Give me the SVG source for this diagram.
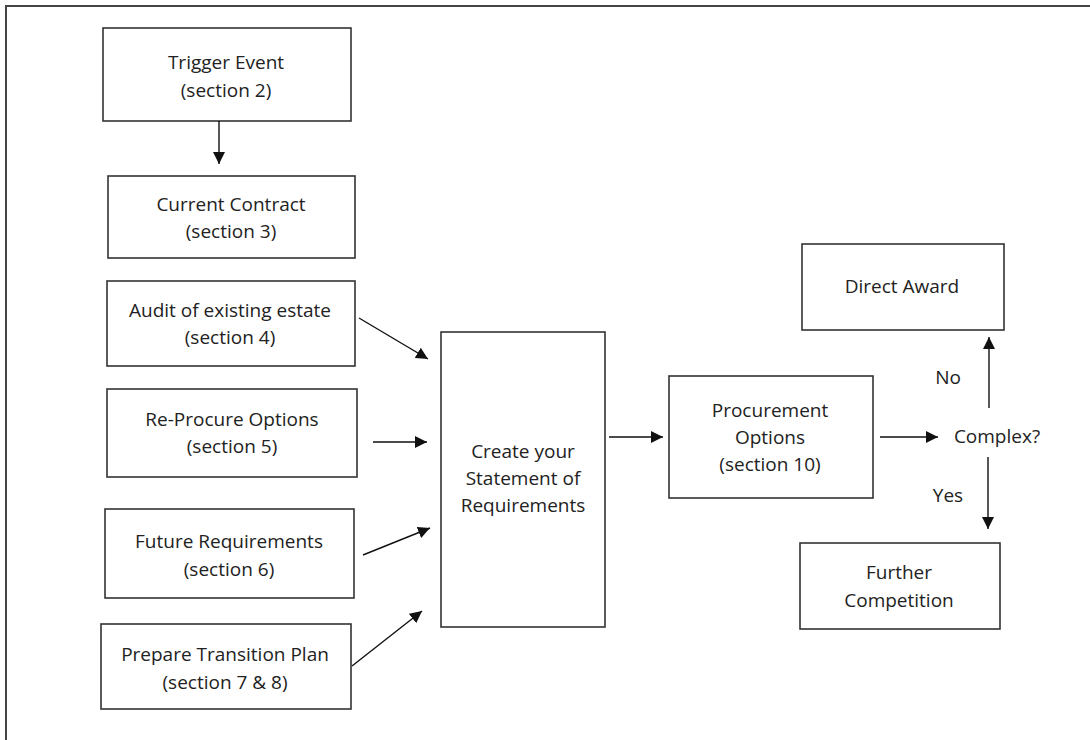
<svg xmlns="http://www.w3.org/2000/svg" width="1090" height="740" viewBox="0 0 1090 740">
<style>
.box{fill:#fff;stroke:#333;stroke-width:1.6}
.t{font-family:"Open Sans","Liberation Sans",sans-serif;font-size:19px;fill:#222;text-anchor:middle}
.c{stroke:#111;stroke-width:1.4;fill:none}
</style>
<defs>
<marker id="ah" viewBox="0 0 10 10" refX="10" refY="5" markerWidth="12" markerHeight="12" markerUnits="userSpaceOnUse" orient="auto">
<path d="M0,0 L10,5 L0,10 z" fill="#111"/>
</marker>
</defs>
<rect width="1090" height="740" fill="#fff"/>
<path d="M6,740 V6 H1090" fill="none" stroke="#444" stroke-width="2"/>
<g id="trigger"><rect class="box" x="103" y="28" width="248" height="93"/><text class="t" x="226" y="69">Trigger Event</text><text class="t" x="226" y="97">(section 2)</text></g>
<g id="current"><rect class="box" x="108" y="176" width="247" height="82"/><text class="t" x="231" y="211">Current Contract</text><text class="t" x="231" y="238">(section 3)</text></g>
<g id="audit"><rect class="box" x="107" y="281" width="248" height="85"/><text class="t" x="230" y="317">Audit of existing estate</text><text class="t" x="230" y="344">(section 4)</text></g>
<g id="reprocure"><rect class="box" x="107" y="389" width="250" height="88"/><text class="t" x="232" y="426">Re-Procure Options</text><text class="t" x="232" y="453">(section 5)</text></g>
<g id="future"><rect class="box" x="105" y="509" width="249" height="89"/><text class="t" x="229" y="548">Future Requirements</text><text class="t" x="229" y="576">(section 6)</text></g>
<g id="prepare"><rect class="box" x="101" y="624" width="250" height="85"/><text class="t" x="225" y="661">Prepare Transition Plan</text><text class="t" x="225" y="689">(section 7 &amp; 8)</text></g>
<g id="create"><rect class="box" x="441" y="332" width="164" height="295"/><text class="t" x="523" y="458">Create your</text><text class="t" x="523" y="485">Statement of</text><text class="t" x="523" y="512">Requirements</text></g>
<g id="procurement"><rect class="box" x="669" y="376" width="204" height="122"/><text class="t" x="770" y="417">Procurement</text><text class="t" x="770" y="444">Options</text><text class="t" x="770" y="471">(section 10)</text></g>
<g id="complex"><text class="t" x="997" y="443">Complex?</text></g>
<g id="direct"><rect class="box" x="802" y="244" width="202" height="86"/><text class="t" x="902" y="293">Direct Award</text></g>
<g id="further"><rect class="box" x="800" y="543" width="200" height="86"/><text class="t" x="899" y="579">Further</text><text class="t" x="899" y="607">Competition</text></g>
<g id="connectors">
<line class="c" x1="219" y1="121" x2="219" y2="164" marker-end="url(#ah)"/>
<line class="c" x1="359" y1="318" x2="428" y2="359" marker-end="url(#ah)"/>
<line class="c" x1="373" y1="442" x2="427" y2="442" marker-end="url(#ah)"/>
<line class="c" x1="363" y1="555" x2="430" y2="528" marker-end="url(#ah)"/>
<line class="c" x1="352" y1="666" x2="422" y2="611" marker-end="url(#ah)"/>
<line class="c" x1="609" y1="437" x2="663" y2="437" marker-end="url(#ah)"/>
<line class="c" x1="880" y1="437" x2="938" y2="437" marker-end="url(#ah)"/>
<line class="c" x1="989" y1="408" x2="989" y2="337" marker-end="url(#ah)"/>
<line class="c" x1="988" y1="457" x2="988" y2="529" marker-end="url(#ah)"/>
<text class="t" x="948" y="384">No</text>
<text class="t" x="948" y="502">Yes</text>
</g>
</svg>
